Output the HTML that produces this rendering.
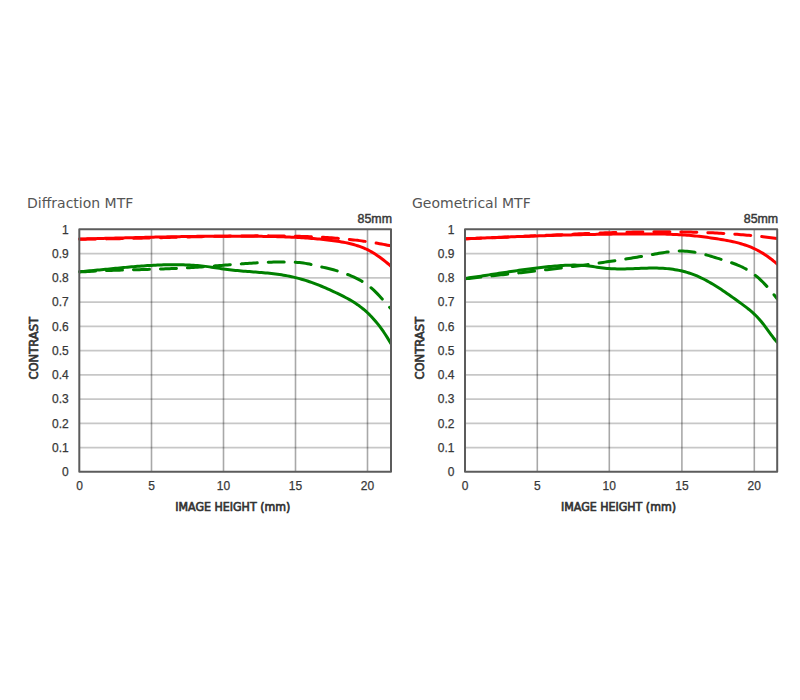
<!DOCTYPE html>
<html><head><meta charset="utf-8"><title>MTF</title>
<style>
html,body{margin:0;padding:0;background:#fff;}
body{width:800px;height:700px;overflow:hidden;}
svg{display:block;}
.tt{font-family:"DejaVu Sans","Liberation Sans",sans-serif;font-size:14px;fill:#555;}
.lb{font-family:"Liberation Sans",sans-serif;font-size:12px;fill:#383838;stroke:#383838;stroke-width:0.25px;}
.ax{font-family:"DejaVu Sans Condensed","DejaVu Sans",sans-serif;font-stretch:condensed;font-size:12.3px;font-weight:normal;fill:#333;stroke:#333;stroke-width:0.65px;}
.fm{font-size:12.4px;stroke-width:0.45px;}
.gh{stroke:rgba(0,0,0,0.22);stroke-width:1.8;}
.gv{stroke:rgba(0,0,0,0.34);stroke-width:1.6;}
.c{fill:none;stroke-width:3.0;stroke-linejoin:round;stroke-linecap:round;}
.d{stroke-dasharray:16 11;stroke-dashoffset:0;}
.bd{fill:none;stroke:#5c5c5c;stroke-width:2;stroke-linejoin:round;}
</style></head>
<body>
<svg width="800" height="700" viewBox="0 0 800 700">
<text x="27.0" y="207.5" class="tt">Diffraction MTF</text>
<text x="392.0" y="222.6" class="lb fm" text-anchor="end">85mm</text>
<line x1="79.3" x2="391.0" y1="447.55" y2="447.55" class="gh"/>
<line x1="79.3" x2="391.0" y1="423.30" y2="423.30" class="gh"/>
<line x1="79.3" x2="391.0" y1="399.05" y2="399.05" class="gh"/>
<line x1="79.3" x2="391.0" y1="374.80" y2="374.80" class="gh"/>
<line x1="79.3" x2="391.0" y1="350.55" y2="350.55" class="gh"/>
<line x1="79.3" x2="391.0" y1="326.30" y2="326.30" class="gh"/>
<line x1="79.3" x2="391.0" y1="302.05" y2="302.05" class="gh"/>
<line x1="79.3" x2="391.0" y1="277.80" y2="277.80" class="gh"/>
<line x1="79.3" x2="391.0" y1="253.55" y2="253.55" class="gh"/>
<line x1="151.50" x2="151.50" y1="229.3" y2="471.8" class="gv"/>
<line x1="223.50" x2="223.50" y1="229.3" y2="471.8" class="gv"/>
<line x1="295.50" x2="295.50" y1="229.3" y2="471.8" class="gv"/>
<line x1="367.50" x2="367.50" y1="229.3" y2="471.8" class="gv"/>
<clipPath id="cp79"><rect x="78.30" y="228.30" width="313.20" height="244.50"/></clipPath>
<g clip-path="url(#cp79)">
<path d="M79.50 239.06 L81.50 239.01 L83.50 238.95 L85.50 238.90 L87.50 238.85 L89.50 238.80 L91.50 238.74 L93.50 238.69 L95.50 238.64 L97.50 238.58 L99.50 238.53 L101.50 238.48 L103.50 238.42 L105.50 238.37 L107.50 238.32 L109.50 238.26 L111.50 238.21 L113.50 238.16 L115.50 238.10 L117.50 238.05 L119.50 238.00 L121.50 237.95 L123.50 237.89 L125.50 237.84 L127.50 237.79 L129.50 237.74 L131.50 237.69 L133.50 237.64 L135.50 237.59 L137.50 237.54 L139.50 237.49 L141.50 237.44 L143.50 237.39 L145.50 237.34 L147.50 237.29 L149.50 237.25 L151.50 237.20 L153.50 237.15 L155.50 237.11 L157.50 237.06 L159.50 237.02 L161.50 236.98 L163.50 236.94 L165.50 236.89 L167.50 236.85 L169.50 236.81 L171.50 236.77 L173.50 236.74 L175.50 236.70 L177.50 236.66 L179.50 236.63 L181.50 236.59 L183.50 236.56 L185.50 236.53 L187.50 236.50 L189.50 236.47 L191.50 236.44 L193.50 236.41 L195.50 236.39 L197.50 236.36 L199.50 236.34 L201.50 236.31 L203.50 236.29 L205.50 236.27 L207.50 236.25 L209.50 236.24 L211.50 236.22 L213.50 236.21 L215.50 236.19 L217.50 236.18 L219.50 236.17 L221.50 236.16 L223.50 236.16 L225.50 236.15 L227.50 236.15 L229.50 236.14 L231.50 236.14 L233.50 236.14 L235.50 236.15 L237.50 236.15 L239.50 236.16 L241.50 236.17 L243.50 236.18 L245.50 236.19 L247.50 236.20 L249.50 236.22 L251.50 236.23 L253.50 236.25 L255.50 236.27 L257.50 236.30 L259.50 236.32 L261.50 236.35 L263.50 236.38 L265.50 236.41 L267.50 236.45 L269.50 236.48 L271.50 236.53 L273.50 236.57 L275.50 236.62 L277.50 236.67 L279.50 236.73 L281.50 236.79 L283.50 236.85 L285.50 236.92 L287.50 237.00 L289.50 237.08 L291.50 237.16 L293.50 237.26 L295.50 237.35 L297.50 237.46 L299.50 237.57 L301.50 237.69 L303.50 237.81 L305.50 237.94 L307.50 238.08 L309.50 238.23 L311.50 238.38 L313.50 238.55 L315.50 238.72 L317.50 238.90 L319.50 239.09 L321.50 239.29 L323.50 239.49 L325.50 239.71 L327.50 239.94 L329.50 240.18 L331.50 240.43 L333.50 240.69 L335.50 240.96 L337.50 241.25 L339.50 241.57 L341.50 241.90 L343.50 242.26 L345.50 242.65 L347.50 243.07 L349.50 243.52 L351.50 244.01 L353.50 244.54 L355.50 245.11 L357.50 245.72 L359.50 246.38 L361.50 247.10 L363.50 247.89 L365.50 248.76 L367.50 249.70 L369.50 250.73 L371.50 251.84 L373.50 253.03 L375.50 254.30 L377.50 255.64 L379.50 257.04 L381.50 258.51 L383.50 260.04 L385.50 261.62 L387.50 263.27 L389.50 264.96 L391.00 266.25" class="c" stroke="#ff0000"/>
<path d="M79.50 239.18 L81.50 239.16 L83.50 239.15 L85.50 239.13 L87.50 239.12 L89.50 239.10 L91.50 239.08 L93.50 239.06 L95.50 239.03 L97.50 239.01 L99.50 238.98 L101.50 238.95 L103.50 238.92 L105.50 238.89 L107.50 238.86 L109.50 238.82 L111.50 238.79 L113.50 238.75 L115.50 238.71 L117.50 238.67 L119.50 238.63 L121.50 238.59 L123.50 238.55 L125.50 238.51 L127.50 238.46 L129.50 238.42 L131.50 238.37 L133.50 238.33 L135.50 238.28 L137.50 238.23 L139.50 238.19 L141.50 238.14 L143.50 238.09 L145.50 238.04 L147.50 237.99 L149.50 237.94 L151.50 237.89 L153.50 237.84 L155.50 237.78 L157.50 237.73 L159.50 237.68 L161.50 237.63 L163.50 237.58 L165.50 237.52 L167.50 237.47 L169.50 237.42 L171.50 237.37 L173.50 237.32 L175.50 237.26 L177.50 237.21 L179.50 237.16 L181.50 237.11 L183.50 237.06 L185.50 237.01 L187.50 236.96 L189.50 236.91 L191.50 236.86 L193.50 236.81 L195.50 236.77 L197.50 236.72 L199.50 236.67 L201.50 236.63 L203.50 236.59 L205.50 236.54 L207.50 236.50 L209.50 236.46 L211.50 236.42 L213.50 236.38 L215.50 236.34 L217.50 236.30 L219.50 236.27 L221.50 236.23 L223.50 236.20 L225.50 236.16 L227.50 236.13 L229.50 236.10 L231.50 236.08 L233.50 236.05 L235.50 236.02 L237.50 236.00 L239.50 235.98 L241.50 235.96 L243.50 235.94 L245.50 235.92 L247.50 235.91 L249.50 235.90 L251.50 235.88 L253.50 235.88 L255.50 235.87 L257.50 235.86 L259.50 235.86 L261.50 235.86 L263.50 235.86 L265.50 235.86 L267.50 235.87 L269.50 235.88 L271.50 235.89 L273.50 235.90 L275.50 235.92 L277.50 235.93 L279.50 235.95 L281.50 235.98 L283.50 236.00 L285.50 236.03 L287.50 236.06 L289.50 236.10 L291.50 236.13 L293.50 236.18 L295.50 236.22 L297.50 236.27 L299.50 236.32 L301.50 236.38 L303.50 236.44 L305.50 236.51 L307.50 236.58 L309.50 236.66 L311.50 236.74 L313.50 236.82 L315.50 236.91 L317.50 237.01 L319.50 237.11 L321.50 237.22 L323.50 237.34 L325.50 237.46 L327.50 237.58 L329.50 237.72 L331.50 237.86 L333.50 238.01 L335.50 238.16 L337.50 238.32 L339.50 238.49 L341.50 238.67 L343.50 238.85 L345.50 239.04 L347.50 239.24 L349.50 239.45 L351.50 239.66 L353.50 239.89 L355.50 240.12 L357.50 240.36 L359.50 240.62 L361.50 240.88 L363.50 241.15 L365.50 241.42 L367.50 241.71 L369.50 242.01 L371.50 242.32 L373.50 242.64 L375.50 242.97 L377.50 243.31 L379.50 243.66 L381.50 244.02 L383.50 244.39 L385.50 244.77 L387.50 245.17 L389.50 245.58 L391.00 245.89" class="c d" stroke="#ff0000"/>
<path d="M79.50 271.71 L81.50 271.54 L83.50 271.38 L85.50 271.21 L87.50 271.03 L89.50 270.85 L91.50 270.67 L93.50 270.48 L95.50 270.29 L97.50 270.10 L99.50 269.91 L101.50 269.71 L103.50 269.52 L105.50 269.32 L107.50 269.12 L109.50 268.92 L111.50 268.73 L113.50 268.53 L115.50 268.33 L117.50 268.14 L119.50 267.95 L121.50 267.75 L123.50 267.57 L125.50 267.38 L127.50 267.20 L129.50 267.02 L131.50 266.84 L133.50 266.67 L135.50 266.51 L137.50 266.34 L139.50 266.19 L141.50 266.04 L143.50 265.89 L145.50 265.75 L147.50 265.62 L149.50 265.50 L151.50 265.38 L153.50 265.27 L155.50 265.17 L157.50 265.08 L159.50 265.00 L161.50 264.92 L163.50 264.86 L165.50 264.80 L167.50 264.76 L169.50 264.72 L171.50 264.70 L173.50 264.69 L175.50 264.69 L177.50 264.71 L179.50 264.73 L181.50 264.77 L183.50 264.82 L185.50 264.89 L187.50 264.97 L189.50 265.06 L191.50 265.17 L193.50 265.30 L195.50 265.43 L197.50 265.59 L199.50 265.76 L201.50 265.95 L203.50 266.15 L205.50 266.38 L207.50 266.62 L209.50 266.87 L211.50 267.15 L213.50 267.44 L215.50 267.74 L217.50 268.05 L219.50 268.36 L221.50 268.66 L223.50 268.96 L225.50 269.24 L227.50 269.51 L229.50 269.76 L231.50 269.99 L233.50 270.21 L235.50 270.42 L237.50 270.61 L239.50 270.80 L241.50 270.97 L243.50 271.14 L245.50 271.30 L247.50 271.46 L249.50 271.62 L251.50 271.77 L253.50 271.92 L255.50 272.08 L257.50 272.23 L259.50 272.39 L261.50 272.56 L263.50 272.73 L265.50 272.91 L267.50 273.10 L269.50 273.31 L271.50 273.52 L273.50 273.75 L275.50 273.99 L277.50 274.25 L279.50 274.53 L281.50 274.83 L283.50 275.15 L285.50 275.49 L287.50 275.86 L289.50 276.25 L291.50 276.67 L293.50 277.11 L295.50 277.59 L297.50 278.09 L299.50 278.63 L301.50 279.19 L303.50 279.78 L305.50 280.40 L307.50 281.05 L309.50 281.72 L311.50 282.42 L313.50 283.14 L315.50 283.89 L317.50 284.66 L319.50 285.45 L321.50 286.26 L323.50 287.10 L325.50 287.95 L327.50 288.82 L329.50 289.71 L331.50 290.62 L333.50 291.55 L335.50 292.49 L337.50 293.45 L339.50 294.42 L341.50 295.41 L343.50 296.42 L345.50 297.46 L347.50 298.52 L349.50 299.64 L351.50 300.80 L353.50 302.01 L355.50 303.30 L357.50 304.65 L359.50 306.08 L361.50 307.60 L363.50 309.22 L365.50 310.94 L367.50 312.76 L369.50 314.69 L371.50 316.74 L373.50 318.91 L375.50 321.20 L377.50 323.63 L379.50 326.19 L381.50 328.89 L383.50 331.73 L385.50 334.72 L387.50 337.87 L389.50 341.18 L391.00 343.77" class="c" stroke="#008000"/>
<path d="M79.50 272.01 L81.50 271.87 L83.50 271.75 L85.50 271.63 L87.50 271.51 L89.50 271.40 L91.50 271.29 L93.50 271.19 L95.50 271.09 L97.50 270.99 L99.50 270.90 L101.50 270.82 L103.50 270.74 L105.50 270.66 L107.50 270.58 L109.50 270.51 L111.50 270.44 L113.50 270.37 L115.50 270.30 L117.50 270.24 L119.50 270.18 L121.50 270.12 L123.50 270.06 L125.50 270.00 L127.50 269.95 L129.50 269.89 L131.50 269.84 L133.50 269.79 L135.50 269.73 L137.50 269.68 L139.50 269.63 L141.50 269.58 L143.50 269.52 L145.50 269.47 L147.50 269.41 L149.50 269.36 L151.50 269.30 L153.50 269.24 L155.50 269.18 L157.50 269.12 L159.50 269.06 L161.50 268.99 L163.50 268.92 L165.50 268.85 L167.50 268.77 L169.50 268.70 L171.50 268.61 L173.50 268.53 L175.50 268.44 L177.50 268.35 L179.50 268.25 L181.50 268.15 L183.50 268.05 L185.50 267.94 L187.50 267.83 L189.50 267.71 L191.50 267.58 L193.50 267.45 L195.50 267.32 L197.50 267.19 L199.50 267.05 L201.50 266.91 L203.50 266.76 L205.50 266.62 L207.50 266.47 L209.50 266.32 L211.50 266.16 L213.50 266.01 L215.50 265.85 L217.50 265.70 L219.50 265.54 L221.50 265.38 L223.50 265.23 L225.50 265.07 L227.50 264.91 L229.50 264.76 L231.50 264.61 L233.50 264.45 L235.50 264.30 L237.50 264.15 L239.50 264.01 L241.50 263.86 L243.50 263.72 L245.50 263.58 L247.50 263.45 L249.50 263.32 L251.50 263.19 L253.50 263.07 L255.50 262.95 L257.50 262.83 L259.50 262.72 L261.50 262.62 L263.50 262.52 L265.50 262.43 L267.50 262.34 L269.50 262.26 L271.50 262.19 L273.50 262.12 L275.50 262.07 L277.50 262.01 L279.50 261.97 L281.50 261.94 L283.50 261.93 L285.50 261.93 L287.50 261.95 L289.50 261.99 L291.50 262.05 L293.50 262.14 L295.50 262.26 L297.50 262.41 L299.50 262.59 L301.50 262.81 L303.50 263.07 L305.50 263.37 L307.50 263.70 L309.50 264.09 L311.50 264.52 L313.50 265.00 L315.50 265.50 L317.50 266.00 L319.50 266.49 L321.50 266.95 L323.50 267.39 L325.50 267.82 L327.50 268.26 L329.50 268.72 L331.50 269.22 L333.50 269.75 L335.50 270.33 L337.50 270.94 L339.50 271.58 L341.50 272.25 L343.50 272.95 L345.50 273.68 L347.50 274.44 L349.50 275.22 L351.50 276.05 L353.50 276.92 L355.50 277.85 L357.50 278.84 L359.50 279.90 L361.50 281.04 L363.50 282.27 L365.50 283.59 L367.50 285.01 L369.50 286.54 L371.50 288.18 L373.50 289.95 L375.50 291.85 L377.50 293.88 L379.50 296.03 L381.50 298.26 L383.50 300.53 L385.50 302.81 L387.50 305.06 L389.50 307.25 L391.00 308.83" class="c d" stroke="#008000"/>
</g>
<rect x="79.30" y="229.30" width="311.70" height="242.50" class="bd"/>
<text x="68.7" y="476.10" class="lb" text-anchor="end">0</text>
<text x="68.7" y="451.85" class="lb" text-anchor="end">0.1</text>
<text x="68.7" y="427.60" class="lb" text-anchor="end">0.2</text>
<text x="68.7" y="403.35" class="lb" text-anchor="end">0.3</text>
<text x="68.7" y="379.10" class="lb" text-anchor="end">0.4</text>
<text x="68.7" y="354.85" class="lb" text-anchor="end">0.5</text>
<text x="68.7" y="330.60" class="lb" text-anchor="end">0.6</text>
<text x="68.7" y="306.35" class="lb" text-anchor="end">0.7</text>
<text x="68.7" y="282.10" class="lb" text-anchor="end">0.8</text>
<text x="68.7" y="257.85" class="lb" text-anchor="end">0.9</text>
<text x="68.7" y="233.60" class="lb" text-anchor="end">1</text>
<text x="79.50" y="489.8" class="lb" text-anchor="middle">0</text>
<text x="151.50" y="489.8" class="lb" text-anchor="middle">5</text>
<text x="223.50" y="489.8" class="lb" text-anchor="middle">10</text>
<text x="295.50" y="489.8" class="lb" text-anchor="middle">15</text>
<text x="367.50" y="489.8" class="lb" text-anchor="middle">20</text>
<text x="175.3" y="510.6" class="ax" textLength="115" lengthAdjust="spacingAndGlyphs">IMAGE HEIGHT (mm)</text>
<text transform="translate(38.2 379.5) rotate(-90)" class="ax" textLength="62.5" lengthAdjust="spacingAndGlyphs">CONTRAST</text>
<text x="412.0" y="207.5" class="tt">Geometrical MTF</text>
<text x="778.2" y="222.6" class="lb fm" text-anchor="end">85mm</text>
<line x1="465.0" x2="777.2" y1="447.55" y2="447.55" class="gh"/>
<line x1="465.0" x2="777.2" y1="423.30" y2="423.30" class="gh"/>
<line x1="465.0" x2="777.2" y1="399.05" y2="399.05" class="gh"/>
<line x1="465.0" x2="777.2" y1="374.80" y2="374.80" class="gh"/>
<line x1="465.0" x2="777.2" y1="350.55" y2="350.55" class="gh"/>
<line x1="465.0" x2="777.2" y1="326.30" y2="326.30" class="gh"/>
<line x1="465.0" x2="777.2" y1="302.05" y2="302.05" class="gh"/>
<line x1="465.0" x2="777.2" y1="277.80" y2="277.80" class="gh"/>
<line x1="465.0" x2="777.2" y1="253.55" y2="253.55" class="gh"/>
<line x1="537.30" x2="537.30" y1="229.3" y2="471.8" class="gv"/>
<line x1="609.30" x2="609.30" y1="229.3" y2="471.8" class="gv"/>
<line x1="681.90" x2="681.90" y1="229.3" y2="471.8" class="gv"/>
<line x1="754.30" x2="754.30" y1="229.3" y2="471.8" class="gv"/>
<clipPath id="cp465"><rect x="464.00" y="228.30" width="313.70" height="244.50"/></clipPath>
<g clip-path="url(#cp465)">
<path d="M465.00 238.86 L467.00 238.77 L469.00 238.67 L471.00 238.58 L473.00 238.49 L475.00 238.39 L477.00 238.30 L479.00 238.21 L481.00 238.12 L483.00 238.03 L485.00 237.94 L487.00 237.85 L489.00 237.76 L491.00 237.67 L493.00 237.59 L495.00 237.50 L497.00 237.42 L499.00 237.33 L501.00 237.25 L503.00 237.17 L505.00 237.09 L507.00 237.00 L509.00 236.92 L511.00 236.84 L513.00 236.77 L515.00 236.69 L517.00 236.61 L519.00 236.54 L521.00 236.46 L523.00 236.39 L525.00 236.31 L527.00 236.24 L529.00 236.17 L531.00 236.10 L533.00 236.03 L535.00 235.96 L537.00 235.89 L539.00 235.83 L541.00 235.76 L543.00 235.70 L545.00 235.63 L547.00 235.57 L549.00 235.51 L551.00 235.45 L553.00 235.39 L555.00 235.33 L557.00 235.27 L559.00 235.21 L561.00 235.16 L563.00 235.10 L565.00 235.05 L567.00 235.00 L569.00 234.95 L571.00 234.90 L573.00 234.85 L575.00 234.80 L577.00 234.75 L579.00 234.71 L581.00 234.66 L583.00 234.62 L585.00 234.58 L587.00 234.54 L589.00 234.50 L591.00 234.46 L593.00 234.42 L595.00 234.39 L597.00 234.35 L599.00 234.32 L601.00 234.29 L603.00 234.26 L605.00 234.23 L607.00 234.20 L609.00 234.17 L611.00 234.14 L613.00 234.12 L615.00 234.10 L617.00 234.08 L619.00 234.05 L621.00 234.04 L623.00 234.02 L625.00 234.00 L627.00 233.99 L629.00 233.97 L631.00 233.96 L633.00 233.95 L635.00 233.94 L637.00 233.93 L639.00 233.92 L641.00 233.92 L643.00 233.92 L645.00 233.91 L647.00 233.92 L649.00 233.92 L651.00 233.93 L653.00 233.94 L655.00 233.96 L657.00 233.98 L659.00 234.00 L661.00 234.04 L663.00 234.07 L665.00 234.12 L667.00 234.17 L669.00 234.23 L671.00 234.30 L673.00 234.38 L675.00 234.46 L677.00 234.56 L679.00 234.66 L681.00 234.78 L683.00 234.91 L685.00 235.04 L687.00 235.19 L689.00 235.36 L691.00 235.53 L693.00 235.72 L695.00 235.92 L697.00 236.13 L699.00 236.35 L701.00 236.59 L703.00 236.83 L705.00 237.09 L707.00 237.35 L709.00 237.63 L711.00 237.91 L713.00 238.20 L715.00 238.50 L717.00 238.81 L719.00 239.13 L721.00 239.45 L723.00 239.79 L725.00 240.13 L727.00 240.49 L729.00 240.87 L731.00 241.27 L733.00 241.69 L735.00 242.15 L737.00 242.63 L739.00 243.15 L741.00 243.71 L743.00 244.32 L745.00 244.96 L747.00 245.66 L749.00 246.41 L751.00 247.22 L753.00 248.08 L755.00 249.01 L757.00 250.00 L759.00 251.06 L761.00 252.19 L763.00 253.39 L765.00 254.66 L767.00 256.01 L769.00 257.44 L771.00 258.95 L773.00 260.54 L775.00 262.21 L777.00 263.98 L777.50 264.43" class="c" stroke="#ff0000"/>
<path d="M465.00 238.69 L467.00 238.63 L469.00 238.57 L471.00 238.51 L473.00 238.45 L475.00 238.38 L477.00 238.31 L479.00 238.25 L481.00 238.18 L483.00 238.10 L485.00 238.03 L487.00 237.96 L489.00 237.88 L491.00 237.80 L493.00 237.72 L495.00 237.64 L497.00 237.56 L499.00 237.48 L501.00 237.40 L503.00 237.31 L505.00 237.23 L507.00 237.14 L509.00 237.06 L511.00 236.97 L513.00 236.88 L515.00 236.79 L517.00 236.70 L519.00 236.61 L521.00 236.52 L523.00 236.43 L525.00 236.34 L527.00 236.25 L529.00 236.15 L531.00 236.06 L533.00 235.97 L535.00 235.87 L537.00 235.78 L539.00 235.69 L541.00 235.59 L543.00 235.50 L545.00 235.41 L547.00 235.31 L549.00 235.22 L551.00 235.13 L553.00 235.03 L555.00 234.94 L557.00 234.85 L559.00 234.76 L561.00 234.67 L563.00 234.58 L565.00 234.49 L567.00 234.40 L569.00 234.31 L571.00 234.22 L573.00 234.13 L575.00 234.04 L577.00 233.96 L579.00 233.87 L581.00 233.79 L583.00 233.71 L585.00 233.62 L587.00 233.54 L589.00 233.46 L591.00 233.39 L593.00 233.31 L595.00 233.23 L597.00 233.16 L599.00 233.08 L601.00 233.01 L603.00 232.94 L605.00 232.87 L607.00 232.81 L609.00 232.74 L611.00 232.68 L613.00 232.62 L615.00 232.56 L617.00 232.50 L619.00 232.44 L621.00 232.39 L623.00 232.33 L625.00 232.28 L627.00 232.24 L629.00 232.19 L631.00 232.15 L633.00 232.10 L635.00 232.06 L637.00 232.03 L639.00 231.99 L641.00 231.96 L643.00 231.93 L645.00 231.90 L647.00 231.88 L649.00 231.86 L651.00 231.84 L653.00 231.82 L655.00 231.81 L657.00 231.80 L659.00 231.79 L661.00 231.79 L663.00 231.78 L665.00 231.79 L667.00 231.79 L669.00 231.80 L671.00 231.81 L673.00 231.82 L675.00 231.84 L677.00 231.86 L679.00 231.89 L681.00 231.91 L683.00 231.94 L685.00 231.98 L687.00 232.02 L689.00 232.06 L691.00 232.11 L693.00 232.16 L695.00 232.21 L697.00 232.27 L699.00 232.33 L701.00 232.39 L703.00 232.46 L705.00 232.54 L707.00 232.61 L709.00 232.70 L711.00 232.78 L713.00 232.87 L715.00 232.97 L717.00 233.07 L719.00 233.17 L721.00 233.28 L723.00 233.39 L725.00 233.51 L727.00 233.63 L729.00 233.76 L731.00 233.89 L733.00 234.03 L735.00 234.17 L737.00 234.32 L739.00 234.47 L741.00 234.63 L743.00 234.79 L745.00 234.96 L747.00 235.14 L749.00 235.31 L751.00 235.50 L753.00 235.69 L755.00 235.88 L757.00 236.08 L759.00 236.29 L761.00 236.50 L763.00 236.72 L765.00 236.94 L767.00 237.17 L769.00 237.40 L771.00 237.64 L773.00 237.89 L775.00 238.14 L777.00 238.40 L777.50 238.47" class="c d" stroke="#ff0000"/>
<path d="M465.00 278.41 L467.00 278.13 L469.00 277.86 L471.00 277.58 L473.00 277.29 L475.00 277.00 L477.00 276.71 L479.00 276.41 L481.00 276.11 L483.00 275.81 L485.00 275.51 L487.00 275.20 L489.00 274.89 L491.00 274.58 L493.00 274.27 L495.00 273.96 L497.00 273.65 L499.00 273.34 L501.00 273.03 L503.00 272.72 L505.00 272.42 L507.00 272.11 L509.00 271.80 L511.00 271.50 L513.00 271.20 L515.00 270.90 L517.00 270.61 L519.00 270.32 L521.00 270.03 L523.00 269.75 L525.00 269.47 L527.00 269.20 L529.00 268.93 L531.00 268.67 L533.00 268.41 L535.00 268.16 L537.00 267.91 L539.00 267.68 L541.00 267.45 L543.00 267.22 L545.00 267.01 L547.00 266.80 L549.00 266.60 L551.00 266.41 L553.00 266.23 L555.00 266.06 L557.00 265.90 L559.00 265.75 L561.00 265.61 L563.00 265.48 L565.00 265.37 L567.00 265.27 L569.00 265.19 L571.00 265.14 L573.00 265.11 L575.00 265.10 L577.00 265.13 L579.00 265.18 L581.00 265.27 L583.00 265.40 L585.00 265.57 L587.00 265.77 L589.00 266.01 L591.00 266.28 L593.00 266.56 L595.00 266.86 L597.00 267.16 L599.00 267.45 L601.00 267.73 L603.00 267.98 L605.00 268.21 L607.00 268.41 L609.00 268.57 L611.00 268.69 L613.00 268.79 L615.00 268.86 L617.00 268.90 L619.00 268.92 L621.00 268.93 L623.00 268.91 L625.00 268.88 L627.00 268.83 L629.00 268.77 L631.00 268.70 L633.00 268.63 L635.00 268.55 L637.00 268.47 L639.00 268.39 L641.00 268.32 L643.00 268.25 L645.00 268.18 L647.00 268.13 L649.00 268.09 L651.00 268.06 L653.00 268.05 L655.00 268.06 L657.00 268.09 L659.00 268.14 L661.00 268.22 L663.00 268.33 L665.00 268.46 L667.00 268.63 L669.00 268.83 L671.00 269.07 L673.00 269.34 L675.00 269.65 L677.00 270.00 L679.00 270.38 L681.00 270.82 L683.00 271.29 L685.00 271.81 L687.00 272.38 L689.00 272.99 L691.00 273.66 L693.00 274.38 L695.00 275.15 L697.00 275.98 L699.00 276.86 L701.00 277.79 L703.00 278.76 L705.00 279.79 L707.00 280.85 L709.00 281.96 L711.00 283.11 L713.00 284.29 L715.00 285.51 L717.00 286.76 L719.00 288.04 L721.00 289.34 L723.00 290.67 L725.00 292.03 L727.00 293.40 L729.00 294.79 L731.00 296.20 L733.00 297.62 L735.00 299.05 L737.00 300.49 L739.00 301.94 L741.00 303.39 L743.00 304.85 L745.00 306.35 L747.00 307.88 L749.00 309.47 L751.00 311.15 L753.00 312.91 L755.00 314.79 L757.00 316.79 L759.00 318.93 L761.00 321.23 L763.00 323.71 L765.00 326.34 L767.00 329.06 L769.00 331.82 L771.00 334.56 L773.00 337.22 L775.00 339.73 L777.00 342.05 L777.20 342.27" class="c" stroke="#008000"/>
<path d="M465.00 278.84 L467.00 278.61 L469.00 278.39 L471.00 278.17 L473.00 277.94 L475.00 277.72 L477.00 277.50 L479.00 277.28 L481.00 277.06 L483.00 276.84 L485.00 276.62 L487.00 276.40 L489.00 276.18 L491.00 275.96 L493.00 275.74 L495.00 275.52 L497.00 275.30 L499.00 275.08 L501.00 274.86 L503.00 274.64 L505.00 274.42 L507.00 274.20 L509.00 273.97 L511.00 273.75 L513.00 273.53 L515.00 273.31 L517.00 273.08 L519.00 272.86 L521.00 272.64 L523.00 272.41 L525.00 272.19 L527.00 271.96 L529.00 271.73 L531.00 271.50 L533.00 271.28 L535.00 271.05 L537.00 270.81 L539.00 270.58 L541.00 270.35 L543.00 270.12 L545.00 269.88 L547.00 269.65 L549.00 269.41 L551.00 269.17 L553.00 268.93 L555.00 268.69 L557.00 268.45 L559.00 268.21 L561.00 267.96 L563.00 267.71 L565.00 267.47 L567.00 267.22 L569.00 266.97 L571.00 266.71 L573.00 266.46 L575.00 266.20 L577.00 265.94 L579.00 265.68 L581.00 265.42 L583.00 265.16 L585.00 264.89 L587.00 264.63 L589.00 264.36 L591.00 264.08 L593.00 263.81 L595.00 263.53 L597.00 263.26 L599.00 262.98 L601.00 262.69 L603.00 262.41 L605.00 262.12 L607.00 261.83 L609.00 261.54 L611.00 261.24 L613.00 260.95 L615.00 260.65 L617.00 260.34 L619.00 260.04 L621.00 259.73 L623.00 259.42 L625.00 259.11 L627.00 258.79 L629.00 258.47 L631.00 258.15 L633.00 257.82 L635.00 257.50 L637.00 257.17 L639.00 256.83 L641.00 256.49 L643.00 256.15 L645.00 255.81 L647.00 255.46 L649.00 255.11 L651.00 254.76 L653.00 254.40 L655.00 254.05 L657.00 253.69 L659.00 253.35 L661.00 253.01 L663.00 252.69 L665.00 252.39 L667.00 252.11 L669.00 251.85 L671.00 251.63 L673.00 251.43 L675.00 251.28 L677.00 251.16 L679.00 251.08 L681.00 251.06 L683.00 251.08 L685.00 251.16 L687.00 251.29 L689.00 251.48 L691.00 251.72 L693.00 252.01 L695.00 252.34 L697.00 252.71 L699.00 253.13 L701.00 253.58 L703.00 254.06 L705.00 254.57 L707.00 255.11 L709.00 255.66 L711.00 256.24 L713.00 256.84 L715.00 257.45 L717.00 258.06 L719.00 258.69 L721.00 259.32 L723.00 259.94 L725.00 260.57 L727.00 261.21 L729.00 261.86 L731.00 262.53 L733.00 263.24 L735.00 263.98 L737.00 264.76 L739.00 265.60 L741.00 266.50 L743.00 267.46 L745.00 268.50 L747.00 269.62 L749.00 270.83 L751.00 272.14 L753.00 273.56 L755.00 275.08 L757.00 276.72 L759.00 278.47 L761.00 280.33 L763.00 282.28 L765.00 284.34 L767.00 286.49 L769.00 288.74 L771.00 291.07 L773.00 293.48 L775.00 295.97 L777.00 298.54 L777.20 298.80" class="c d" stroke="#008000"/>
</g>
<rect x="465.00" y="229.30" width="312.20" height="242.50" class="bd"/>
<text x="454.4" y="476.10" class="lb" text-anchor="end">0</text>
<text x="454.4" y="451.85" class="lb" text-anchor="end">0.1</text>
<text x="454.4" y="427.60" class="lb" text-anchor="end">0.2</text>
<text x="454.4" y="403.35" class="lb" text-anchor="end">0.3</text>
<text x="454.4" y="379.10" class="lb" text-anchor="end">0.4</text>
<text x="454.4" y="354.85" class="lb" text-anchor="end">0.5</text>
<text x="454.4" y="330.60" class="lb" text-anchor="end">0.6</text>
<text x="454.4" y="306.35" class="lb" text-anchor="end">0.7</text>
<text x="454.4" y="282.10" class="lb" text-anchor="end">0.8</text>
<text x="454.4" y="257.85" class="lb" text-anchor="end">0.9</text>
<text x="454.4" y="233.60" class="lb" text-anchor="end">1</text>
<text x="465.20" y="489.8" class="lb" text-anchor="middle">0</text>
<text x="537.30" y="489.8" class="lb" text-anchor="middle">5</text>
<text x="609.30" y="489.8" class="lb" text-anchor="middle">10</text>
<text x="681.90" y="489.8" class="lb" text-anchor="middle">15</text>
<text x="754.30" y="489.8" class="lb" text-anchor="middle">20</text>
<text x="561.0" y="510.6" class="ax" textLength="115" lengthAdjust="spacingAndGlyphs">IMAGE HEIGHT (mm)</text>
<text transform="translate(423.9 379.5) rotate(-90)" class="ax" textLength="62.5" lengthAdjust="spacingAndGlyphs">CONTRAST</text>
</svg>
</body></html>
